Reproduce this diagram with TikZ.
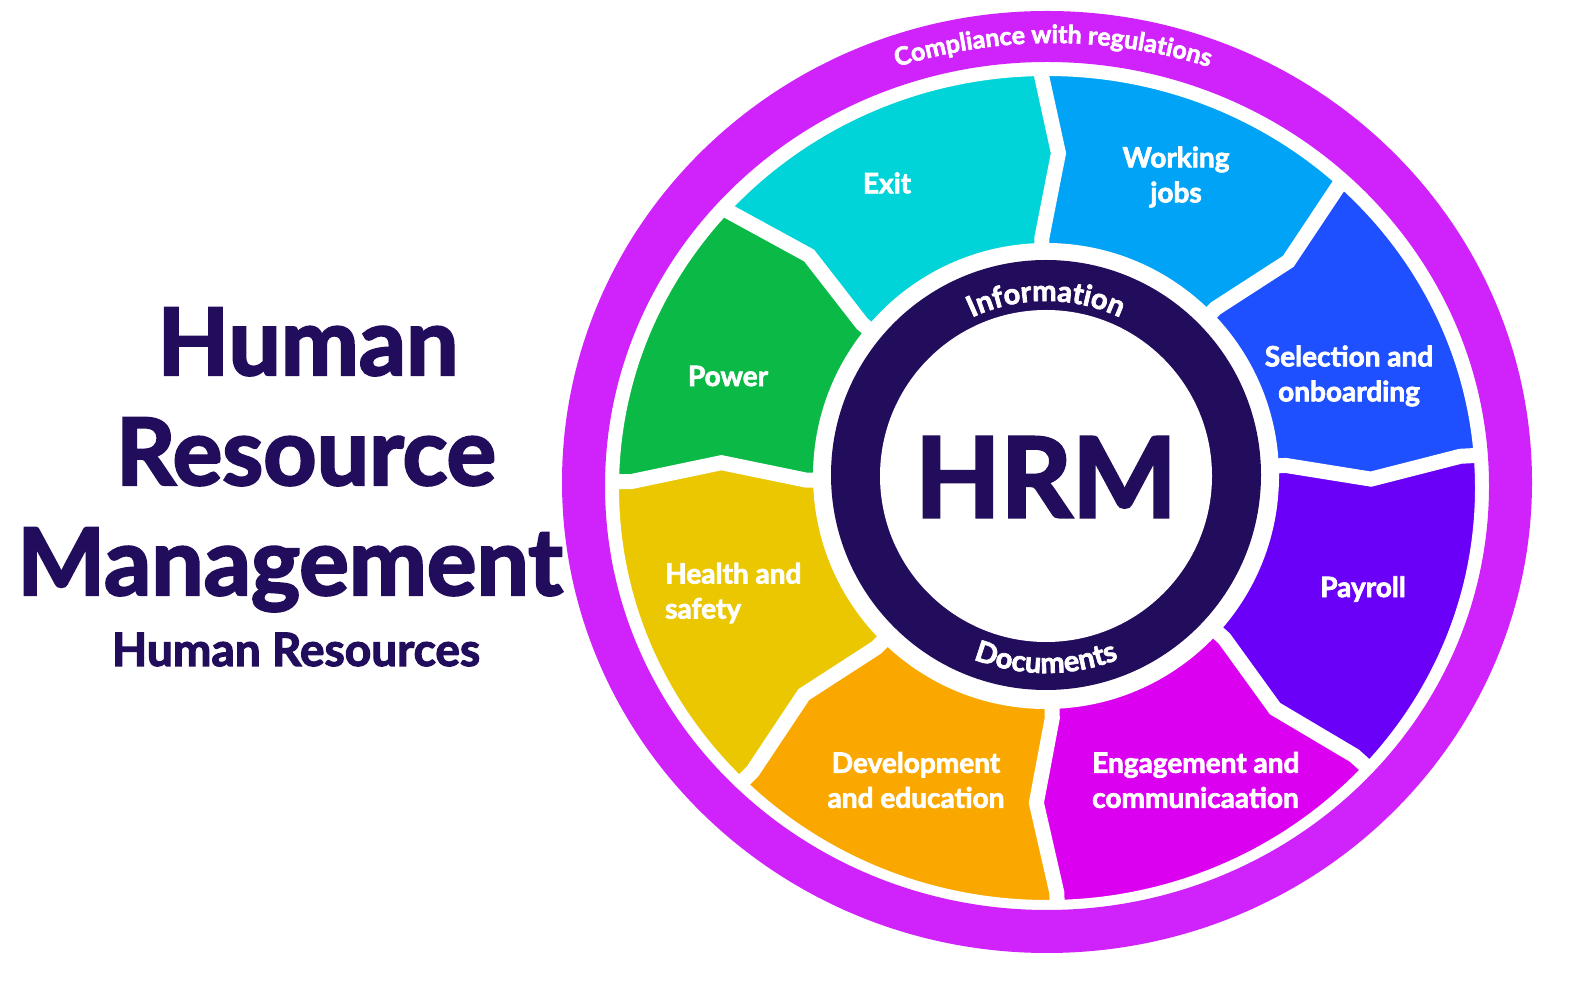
\documentclass[tikz,border=0pt]{standalone}
\usepackage{fontspec}
\setmainfont{Lato}[FakeBold=2.5]
\usetikzlibrary{decorations.text}
\definecolor{hrmnavy}{RGB}{34,12,92}
\definecolor{ringpurple}{RGB}{208,34,250}
\definecolor{exitcyan}{RGB}{0,212,216}
\definecolor{jobsblue}{RGB}{0,163,245}
\definecolor{selblue}{RGB}{30,80,255}
\definecolor{payviolet}{RGB}{106,0,248}
\definecolor{engmagenta}{RGB}{220,0,240}
\definecolor{devorange}{RGB}{250,168,0}
\definecolor{healthyellow}{RGB}{234,199,0}
\definecolor{powergreen}{RGB}{10,185,70}
\begin{document}
\begin{tikzpicture}[x=1pt, y=1pt,
        seglabel/.style={text=white, font=\fontsize{28}{35}\selectfont\bfseries, align=center, inner sep=0pt},
        gap/.style={white, line width=15pt},
        title/.style={text=hrmnavy, font=\fontsize{93}{107}\selectfont\bfseries, anchor=base, inner sep=0pt},
        curved/.style={decorate, decoration={text along path, text align=center, text color=white, text={#1}}}
    ]
    \fill[white] (0,0) rectangle (1584,993);
    \useasboundingbox (0,0) rectangle (1584,993);
    \coordinate (hub) at (1046,515);

    % segments, clockwise from the top
    \foreach \s/\e/\col in {91/45/jobsblue, 45/3/selblue, 3/-42/payviolet, -42/-88.5/engmagenta,
            -88.5/-135/devorange, -135/-179.5/healthyellow, -179.5/-220/powergreen, -220/-269/exitcyan}
        \fill[\col, shift={(hub)}] (0,0) -- (\s:240) -- ({\s-3.2}:325) -- (\s:415) -- (\s:450)
            arc[start angle=\s, end angle=\e, radius=450] -- (\e:415) -- ({\e-3.2}:325) -- (\e:240) -- cycle;
    \foreach \b in {91,45,3,-42,-88.5,-135,-179.5,-220}
        \draw[gap, shift={(hub)}] (0,0) -- (\b:240) -- ({\b-3.2}:325) -- (\b:415) -- (\b:460);

    % outer ring
    \fill[white, even odd rule] (1047,505) ellipse[x radius=428, y radius=412] (1047,507) ellipse[x radius=445, y radius=427];
    \fill[ringpurple, even odd rule] (1047,511) ellipse[x radius=485, y radius=471] (1047,507) ellipse[x radius=442, y radius=424];
    \path[curved={|\fontsize{25}{25}\selectfont\bfseries|Compliance with regulations}]
        (1053,430) ++(110:520) arc[start angle=110, end angle=70, radius=520];

    % hub
    \fill[white] (1046,517) circle[radius=233];
    \fill[hrmnavy] (1046,518) circle[radius=215];
    \fill[white] (1046,517) circle[radius=166];
    \path[curved={|\fontsize{29}{29}\selectfont\bfseries|Information}]
        (1046,518) ++(140:174) arc[start angle=140, end angle=40, radius=174];
    \path[curved={|\fontsize{29}{29}\selectfont\bfseries|Documents}]
        (1046,518) ++(-140:198) arc[start angle=-140, end angle=-40, radius=198];
    \node[text=hrmnavy, font=\fontsize{111}{111}\selectfont\bfseries] (hrm) at (1046,516) {HRM};

    \node[seglabel] (jobs) at (1176,816) {Working\\jobs};
    \node[seglabel] (select) at (1349,617) {Selection and\\onboarding};
    \node[seglabel] (payroll) at (1363,404) {Payroll};
    \node[seglabel, anchor=west, align=left] (engage) at (1092,213) {Engagement and\\communicaation};
    \node[seglabel] (develop) at (916,213) {Development\\and education};
    \node[seglabel, anchor=west, align=left] (health) at (665,400) {Health and\\safety};
    \node[seglabel] (power) at (728,617) {Power};
    \node[seglabel] (exit) at (887,810) {Exit};

    % title
    \node[title] (human) at (308,618) {Human};
    \node[title] (resource) at (306,508) {Resource};
    \node[title] (manage) at (290,398) {Management};
    \node[title, font=\fontsize{46}{46}\selectfont\bfseries] (hr) at (296,327) {Human Resources};
\end{tikzpicture}
\end{document}
